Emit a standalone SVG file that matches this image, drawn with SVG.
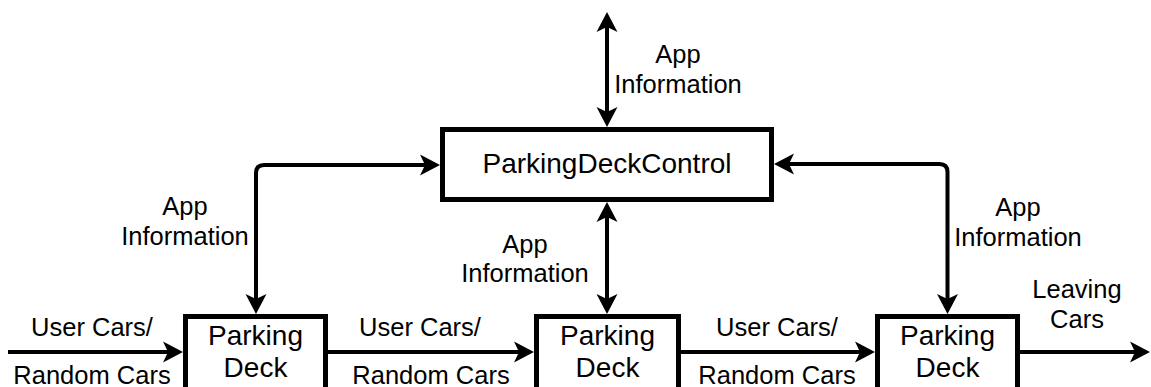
<svg xmlns="http://www.w3.org/2000/svg" width="1151" height="387" viewBox="0 0 1151 387">
  <defs>
    <!-- classic notched arrowhead; tip sits 10px beyond the line end -->
    <marker id="arrow" viewBox="-22 -12 22 24" refX="-10" refY="0" markerWidth="22" markerHeight="24" markerUnits="userSpaceOnUse" orient="auto-start-reverse">
      <path d="M0,0 L-20,-10.5 L-15,0 L-20,10.5 Z" fill="#000"/>
    </marker>
  </defs>
  <style>
    .box { fill: #fff; stroke: #000; stroke-width: 5; }
    .wire { fill: none; stroke: #000; stroke-width: 4; }
    .lbl { font-family: "Liberation Sans", Arial, sans-serif; font-size: 25.5px; fill: #000; text-anchor: middle; }
    .nodetxt { font-family: "Liberation Sans", Arial, sans-serif; font-size: 28px; fill: #000; text-anchor: middle; }
  </style>

  <rect width="1151" height="387" fill="#fff"/>

  <g id="connectors">
    <!-- external link to the controller -->
    <path class="wire" d="M607,22 L607,117" marker-start="url(#arrow)" marker-end="url(#arrow)"/>
    <!-- controller to each deck -->
    <path class="wire" d="M256,304 L256,173 Q256,165 264,165 L430,165" marker-start="url(#arrow)" marker-end="url(#arrow)"/>
    <path class="wire" d="M607,212 L607,304" marker-start="url(#arrow)" marker-end="url(#arrow)"/>
    <path class="wire" d="M947.5,304 L947.5,172 Q947.5,164 939.5,164 L784,164" marker-start="url(#arrow)" marker-end="url(#arrow)"/>
    <!-- car flow along the decks -->
    <path class="wire" d="M8,352 L173,352" marker-end="url(#arrow)"/>
    <path class="wire" d="M328,352 L524,352" marker-end="url(#arrow)"/>
    <path class="wire" d="M681,352 L865,352" marker-end="url(#arrow)"/>
    <path class="wire" d="M1020,352 L1140,352" marker-end="url(#arrow)"/>
  </g>

  <g id="labels">
    <text class="lbl" x="678" y="63">App</text>
    <text class="lbl" x="678" y="93">Information</text>
    <text class="lbl" x="185" y="215">App</text>
    <text class="lbl" x="185" y="245">Information</text>
    <text class="lbl" x="525" y="253">App</text>
    <text class="lbl" x="525" y="282">Information</text>
    <text class="lbl" x="1018" y="216">App</text>
    <text class="lbl" x="1018" y="246">Information</text>
    <text class="lbl" x="92" y="336">User Cars/</text>
    <text class="lbl" x="92" y="384">Random Cars</text>
    <text class="lbl" x="420" y="336">User Cars/</text>
    <text class="lbl" x="431" y="384">Random Cars</text>
    <text class="lbl" x="777" y="336">User Cars/</text>
    <text class="lbl" x="777" y="384">Random Cars</text>
    <text class="lbl" x="1077" y="298">Leaving</text>
    <text class="lbl" x="1077" y="328">Cars</text>
  </g>

  <g id="control">
    <rect class="box" x="442.5" y="129.5" width="329" height="70"/>
    <text class="nodetxt" x="607" y="173">ParkingDeckControl</text>
  </g>

  <g id="deck1">
    <rect class="box" x="185.5" y="316.5" width="140" height="80"/>
    <text class="nodetxt" x="255.5" y="345">Parking</text>
    <text class="nodetxt" x="255.5" y="377">Deck</text>
  </g>

  <g id="deck2">
    <rect class="box" x="536.5" y="316.5" width="142" height="80"/>
    <text class="nodetxt" x="607.5" y="345">Parking</text>
    <text class="nodetxt" x="607.5" y="377">Deck</text>
  </g>

  <g id="deck3">
    <rect class="box" x="877.5" y="316.5" width="140" height="80"/>
    <text class="nodetxt" x="947.5" y="345">Parking</text>
    <text class="nodetxt" x="947.5" y="377">Deck</text>
  </g>
</svg>
